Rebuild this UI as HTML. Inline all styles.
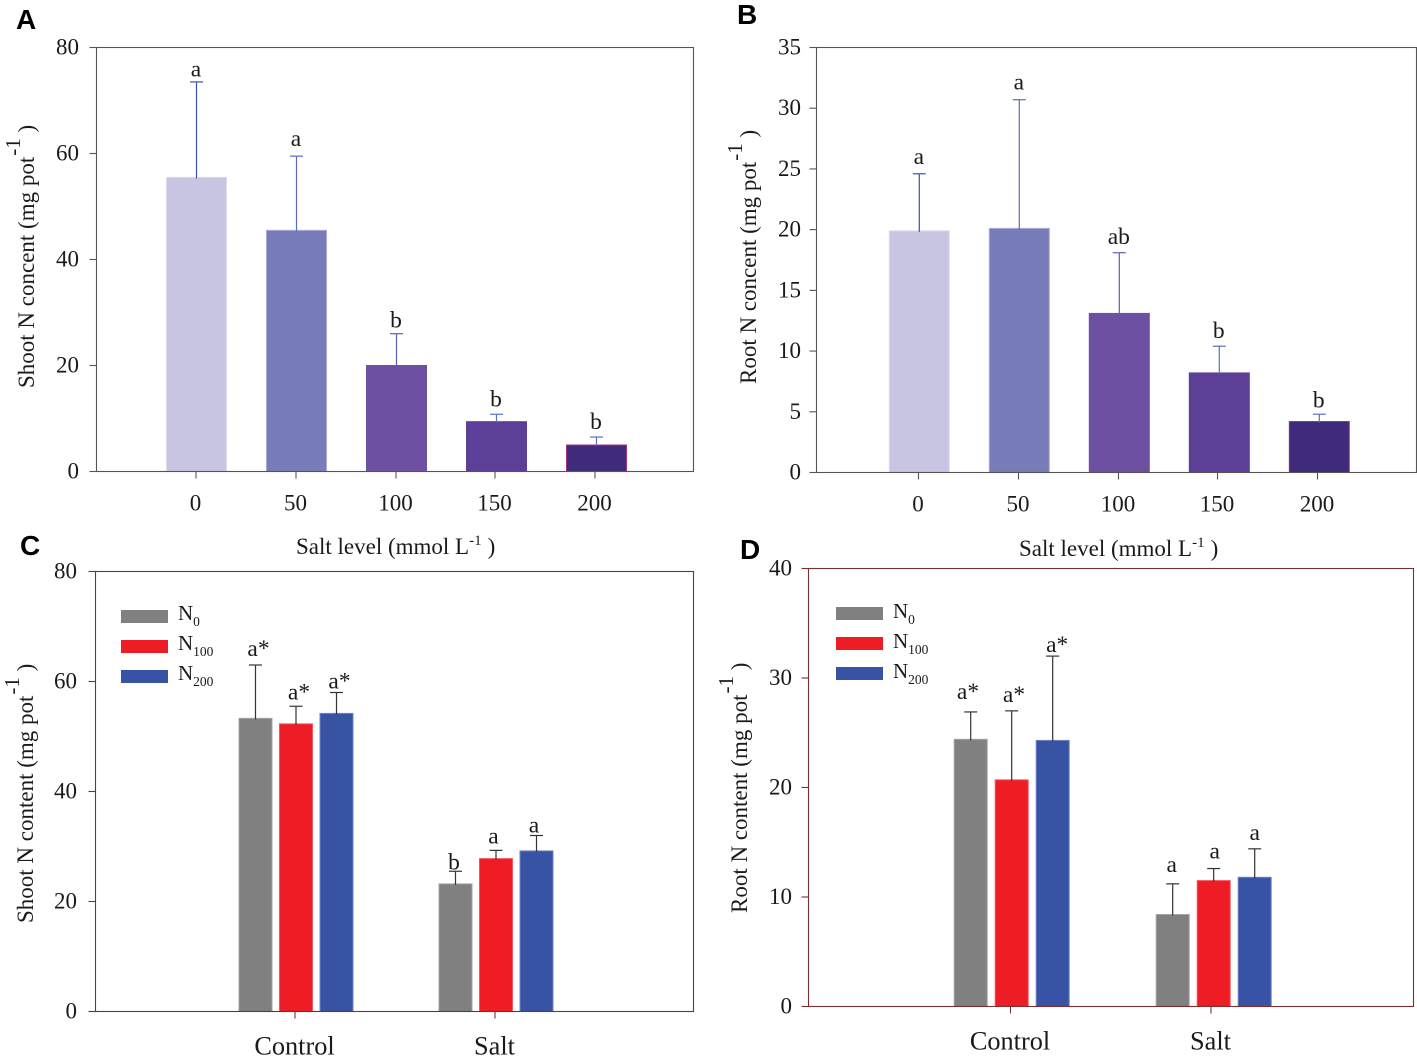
<!DOCTYPE html>
<html lang="en">
<head>
<meta charset="utf-8">
<title>Shoot and root N content by salt level</title>
<style>
html,body{margin:0;padding:0;background:#fff;}
svg{display:block;font-family:"Liberation Serif",serif;fill:#1a1a1a;}
.panel-label{font-family:"Liberation Sans",sans-serif;font-weight:700;font-size:28px;fill:#000;}
.title{font-size:23px;}
.sup{font-size:15px;}
.ysup{font-size:21px;}
.legend-text{font-size:21px;}
.legend-sub{font-size:13.5px;}
</style>
</head>
<body>
<svg id="figure" xmlns="http://www.w3.org/2000/svg" width="1417" height="1058" viewBox="0 0 1417 1058">
  <rect x="0" y="0" width="1417" height="1058" fill="#fff"/>

  <text class="panel-label" x="16" y="29">A</text>
  <text class="panel-label" x="737" y="24">B</text>
  <text class="panel-label" x="20" y="555">C</text>
  <text class="panel-label" x="740" y="559">D</text>

  <text class="title" transform="translate(34,388) rotate(-90)">Shoot N concent (mg pot<tspan class="ysup" dx="1" dy="-14">-1</tspan><tspan dy="14"> )</tspan></text>
  <text class="title" transform="translate(756,384) rotate(-90)">Root N concent (mg pot<tspan class="ysup" dx="1" dy="-14">-1</tspan><tspan dy="14"> )</tspan></text>
  <text class="title" transform="translate(33,923) rotate(-90)">Shoot N content (mg pot<tspan class="ysup" dx="1" dy="-14">-1</tspan><tspan dy="14"> )</tspan></text>
  <text class="title" transform="translate(747,913) rotate(-90)">Root N content (mg pot<tspan class="ysup" dx="1" dy="-14">-1</tspan><tspan dy="14"> )</tspan></text>

  <text class="title" x="296" y="554">Salt level (mmol L<tspan class="sup" dy="-9">-1</tspan><tspan dx="6" dy="9">)</tspan></text>
  <text class="title" x="1019" y="556">Salt level (mmol L<tspan class="sup" dy="-9">-1</tspan><tspan dx="6" dy="9">)</tspan></text>

  <g>
    <rect x="121" y="610" width="47" height="13" fill="#808080"/>
    <text class="legend-text" x="178" y="620">N<tspan class="legend-sub" dy="6">0</tspan></text>
    <rect x="121" y="640" width="47" height="13" fill="#ee1c25"/>
    <text class="legend-text" x="178" y="650">N<tspan class="legend-sub" dy="6">100</tspan></text>
    <rect x="121" y="670" width="47" height="13" fill="#3953a4"/>
    <text class="legend-text" x="178" y="680">N<tspan class="legend-sub" dy="6">200</tspan></text>
  </g>
  <g>
    <rect x="836" y="607" width="47" height="13" fill="#808080"/>
    <text class="legend-text" x="893" y="618">N<tspan class="legend-sub" dy="6">0</tspan></text>
    <rect x="836" y="637" width="47" height="13" fill="#ee1c25"/>
    <text class="legend-text" x="893" y="648">N<tspan class="legend-sub" dy="6">100</tspan></text>
    <rect x="836" y="667" width="47" height="13" fill="#3953a4"/>
    <text class="legend-text" x="893" y="678">N<tspan class="legend-sub" dy="6">200</tspan></text>
  </g>
</svg>
<script>
// Panel A
const saltLevels = ['0', '50', '100', '150', '200'];
const aTicks = [0, 20, 40, 60, 80];
const aValues = [55.5, 45.5, 20, 9.4, 5];
const aErrorTops = [73.5, 59.5, 26, 10.8, 6.5];
const aLetters = ['a', 'a', 'b', 'b', 'b'];
// Panel B
const bTicks = [0, 5, 10, 15, 20, 25, 30, 35];
const bValues = [19.9, 20.1, 13.1, 8.2, 4.2];
const bErrorTops = [24.6, 30.7, 18.1, 10.4, 4.8];
const bLetters = ['a', 'a', 'ab', 'b', 'b'];
// Panel C
const treatments = ['Control', 'Salt'];
const nitrogenLevels = ['N0', 'N100', 'N200'];
const cTicks = [0, 20, 40, 60, 80];
const cControlValues = [53.3, 52.3, 54.2];
const cSaltValues = [23.2, 27.8, 29.2];
const cControlErrorTops = [63, 55.5, 58];
const cSaltErrorTops = [25.5, 29.3, 32];
const cControlLetters = ['a*', 'a*', 'a*'];
const cSaltLetters = ['b', 'a', 'a'];
// Panel D
const dTicks = [0, 10, 20, 30, 40];
const dControlValues = [24.4, 20.7, 24.3];
const dSaltValues = [8.4, 11.5, 11.8];
const dControlErrorTops = [26.9, 27, 32];
const dSaltErrorTops = [11.2, 12.6, 14.4];
const dControlLetters = ['a*', 'a*', 'a*'];
const dSaltLetters = ['a', 'a', 'a'];

const svg = document.getElementById('figure');
const NS = 'http://www.w3.org/2000/svg';

function make(tag, attrs, name, text) {
  const el = document.createElementNS(NS, tag);
  Object.keys(attrs).forEach(function (k) { el.setAttribute(k, attrs[k]); });
  
  
  if (text !== undefined) el.textContent = text;
  svg.appendChild(el);
  return el;
}

function drawYAxis(p, ticks) {
  const yMax = ticks[ticks.length - 1];
  const y = function (v) { return p.bottom - (v / yMax) * (p.bottom - p.top); };
  ticks.forEach(function (t) {
    make('line', { x1: p.left - 7, x2: p.left, y1: y(t), y2: y(t), stroke: p.axis, 'stroke-width': 1.1 }, 'y-tick-' + p.id);
    make('text', { x: p.left - p.labelGap, y: y(t) + 7, 'text-anchor': 'end', 'font-size': 23 }, 'y-tick-label-' + p.id, String(t));
  });
  return y;
}

function drawBorder(p) {
  make('rect', { x: p.left, y: p.top, width: p.right - p.left, height: p.bottom - p.top, fill: 'none', stroke: p.axis, 'stroke-width': 1.1 }, 'plot-frame-' + p.id);
}

function xTick(p, x, label, size, baseline) {
  make('line', { x1: x, x2: x, y1: p.bottom, y2: p.bottom + 7, stroke: p.axis, 'stroke-width': 1.1 }, 'x-tick-' + p.id);
  make('text', { x: x - 0.5, y: baseline, 'text-anchor': 'middle', 'font-size': size }, 'x-tick-label-' + p.id, label);
}

function bar(p, y, cx, width, value, top, letter, fill, edge, errColor, letterSize, gap, letterShift) {
  make('rect', { x: cx - width / 2, y: y(value), width: width, height: p.bottom - y(value), fill: fill, stroke: edge, 'stroke-width': 1 }, 'bar-' + p.id);
  make('line', { x1: cx, x2: cx, y1: y(value) + 1, y2: y(top), stroke: errColor, 'stroke-width': 1.2 }, 'error-bar-' + p.id);
  make('line', { x1: cx - 6.5, x2: cx + 6.5, y1: y(top), y2: y(top), stroke: errColor, 'stroke-width': 1.2 }, 'error-cap-' + p.id);
  make('text', { x: cx + letterShift, y: y(top) - gap, 'text-anchor': 'middle', 'font-size': letterSize }, 'significance-letter-' + p.id, letter);
}

function simplePanel(p, ticks, cats, values, tops, letters) {
  const y = drawYAxis(p, ticks);
  const x = function (i) { return p.x0 + i * p.step; };
  const fills = ['#c8c5e3', '#787cb8', '#6d50a1', '#5c3f96', '#3f2a7c'];
  const edges = ['#dddcf0', '#a9abd6', '#6d50a1', '#5c3f96', '#a2327f'];
  const errs = ['#3a50b5', '#5a6bbd', '#5a5fb5', '#5a6fc0', '#5a6fc0'];
  cats.forEach(function (c, i) {
    bar(p, y, x(i) + p.shift, 60, values[i], tops[i], letters[i], fills[i], edges[i], errs[i], 23.5, p.gaps[i], -0.5);
    xTick(p, x(i) - (i > 2 ? 1 : 0), c, 23, p.bottom + 39);
  });
  drawBorder(p);
}

function groupedPanel(p, ticks, groups, levels, valuesByGroup, topsByGroup, lettersByGroup) {
  const y = drawYAxis(p, ticks);
  const x = function (i) { return p.x0 + i * p.step; };
  const barX = function (i) { return p.barX0 + i * p.barStep; };
  const fills = ['#808080', '#ee1c25', '#3953a4'];
  const edges = ['#a3a3a3', '#f5565c', '#6f82c4'];
  groups.forEach(function (g, i) {
    levels.forEach(function (n, j) {
      const cx = barX(i) + (j - 1) * p.spacing;
      const k = i * levels.length + j;
      bar(p, y, cx, 33, valuesByGroup[i][j], topsByGroup[i][j], lettersByGroup[i][j], fills[j], edges[j], '#333333', 23.5, p.gaps[k], p.shifts[k]);
    });
    xTick(p, x(i), g, 26.3, p.bottom + 43);
  });
  drawBorder(p);
}

simplePanel({ id: 'a', left: 96.5, right: 693.5, top: 47.5, bottom: 471.5, x0: 196, step: 100, shift: 0.5, labelGap: 17.5, axis: '#555555', gaps: [5.5, 10, 6, 8, 8] }, aTicks, saltLevels, aValues, aErrorTops, aLetters);
simplePanel({ id: 'b', left: 816.5, right: 1416.5, top: 47.5, bottom: 472.5, x0: 918.5, step: 100, shift: 0.8, labelGap: 15.5, axis: '#555555', gaps: [10, 10, 8.5, 8, 6.5] }, bTicks, saltLevels, bValues, bErrorTops, bLetters);
groupedPanel({ id: 'c', left: 95.5, right: 693.5, top: 571.5, bottom: 1011.5, x0: 295, step: 200, barX0: 296, barStep: 200, spacing: 40.5, labelGap: 18.5, axis: '#7a3030', gaps: [9, 6.7, 4, 2, 7, 3], shifts: [3, 3, 3, -1.5, -2.5, -2.5] }, cTicks, treatments, nitrogenLevels, [cControlValues, cSaltValues], [cControlErrorTops, cSaltErrorTops], [cControlLetters, cSaltLetters]);
groupedPanel({ id: 'd', left: 808.5, right: 1413.5, top: 568.5, bottom: 1006.5, x0: 1010.5, step: 200.5, barX0: 1011.7, barStep: 202, spacing: 41, labelGap: 16.5, axis: '#7a3030', gaps: [12.7, 8.7, 4, 12, 10, 9], shifts: [-2.7, 2.3, 4.5, -1, 1, 0] }, dTicks, treatments, nitrogenLevels, [dControlValues, dSaltValues], [dControlErrorTops, dSaltErrorTops], [dControlLetters, dSaltLetters]);
</script>
</body>
</html>
